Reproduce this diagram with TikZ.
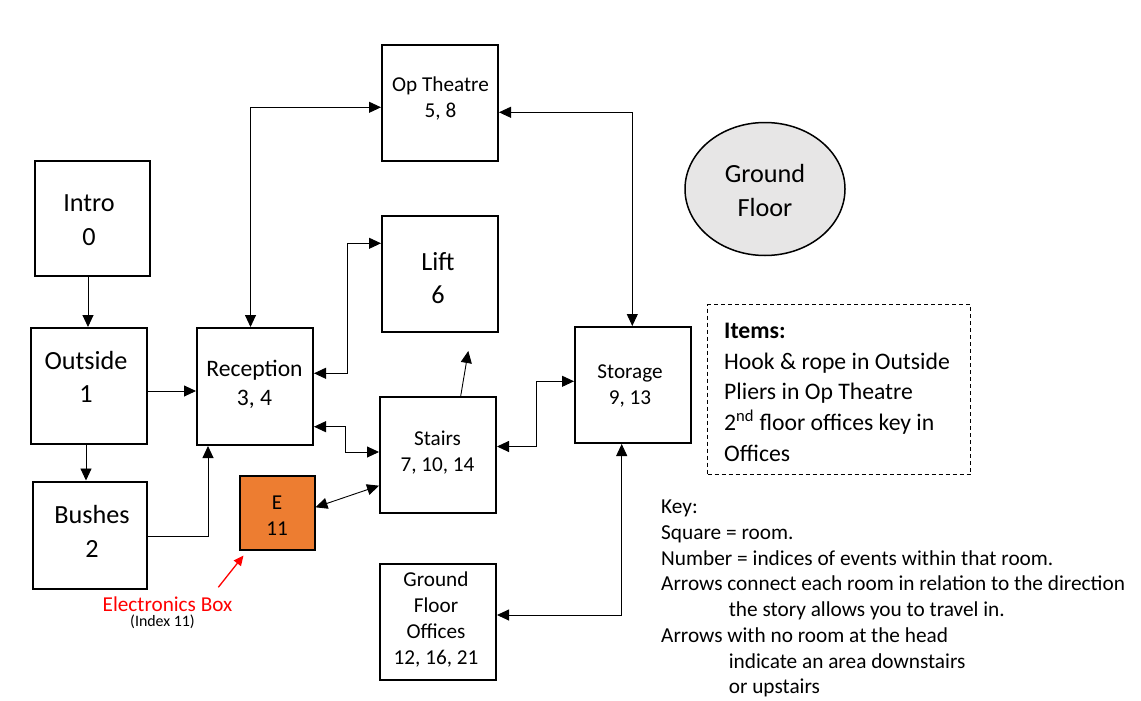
\documentclass[tikz,border=0pt]{standalone}
\usepackage{fontspec}
\setmainfont{Carlito}
\usetikzlibrary{arrows.meta,shapes.geometric,calc}
\definecolor{eorange}{HTML}{ED7D31}
\definecolor{ellgray}{HTML}{E7E6E6}
\newcommand\rmBig{\fontsize{26.2}{33.5}\selectfont}
\newcommand\rmRec{\fontsize{23.6}{29}\selectfont}
\newcommand\rmMid{\fontsize{21.2}{26}\selectfont}
\newcommand\rmItems{\fontsize{23.7}{30.7}\selectfont}
\newcommand\rmKey{\fontsize{21.3}{25.7}\selectfont}
\newcommand\rmTiny{\fontsize{15.9}{18}\selectfont}
\begin{document}
\begin{tikzpicture}[x=1pt,y=-1pt,
  room/.style={draw, line width=2pt, inner sep=0pt, minimum width=116pt, minimum height=116pt},
  rtxt/.style={align=center, inner sep=0pt},
  tipA/.tip={Triangle[length=12pt,width=11pt]},
  arr/.style={line width=0.9pt, -tipA},
  darr/.style={line width=0.9pt, tipA-tipA},
  redarr/.style={line width=1.3pt, red, -{Triangle[length=10pt,width=9pt]}}]
\useasboundingbox[fill=white] (0,0) rectangle (1141,701);

% rooms
\node[room, minimum width=115pt, minimum height=115pt] (intro) at (92.5,218.5) {};
\node[rtxt, font=\rmBig] (introT) at (89,220) {Intro\\0};
\node[room] (outside) at (89,386) {};
\node[rtxt, font=\rmBig] (outsideT) at (86,377) {Outside\\1};
\node[room, minimum width=114pt, minimum height=107pt] (bushes) at (90,535) {};
\node[rtxt, font=\rmBig] (bushesT) at (92,531.5) {Bushes\\2};
\node[room, minimum height=117pt] (rec) at (255,386.5) {};
\node[rtxt, font=\rmRec] (recT) at (254.5,384.5) {Reception\\3, 4};
\node[room] (op) at (440,103) {};
\node[rtxt, font=\rmMid] (opT) at (440.5,98.5) {Op Theatre\\5, 8};
\node[room] (lift) at (440,274) {};
\node[rtxt, font=\rmBig] (liftT) at (438,278) {Lift\\6};
\node[room] (stairs) at (438,455) {};
\node[rtxt, font=\rmMid] (stairsT) at (437.5,453) {Stairs\\7, 10, 14};
\node[room, minimum width=75pt, minimum height=74pt, fill=eorange] (e) at (277,512.5) {};
\node[rtxt, font=\rmMid, text depth=0pt] (eT) at (277,515.5) {E\\11};
\node[room] (sto) at (633,385) {};
\node[rtxt, font=\rmMid] (stoT) at (630,386) {Storage\\9, 13};
\node[room] (gfo) at (438,621.5) {};
\node[rtxt, font=\rmMid] (gfoT) at (436,619) {Ground\\Floor\\Offices\\12, 16, 21};

% ground floor ellipse
\node[ellipse, draw, line width=1.5pt, fill=ellgray, inner sep=0pt,
      minimum width=160pt, minimum height=133pt] (gf) at (765,189) {};
\node[rtxt, font=\rmBig] (gfT) at (765,190.5) {Ground\\Floor};

% items box
\node[draw, line width=0.8pt, dash pattern=on 4pt off 3pt, inner sep=0pt,
      minimum width=263pt, minimum height=170pt] (items) at (839,389.5) {};
\node[align=left, inner sep=0pt, anchor=north west, font=\rmItems] (itemsT) at (724,323)
  {\textbf{Items:}\\Hook \& rope in Outside\\Pliers in Op Theatre\\2\textsuperscript{nd} floor offices key in\\Offices};

% key
\node[align=left, inner sep=0pt, anchor=north west, font=\rmKey] (key) at (661,500)
  {Key:\\
   Square = room.\\
   Number = indices of events within that room.\\
   Arrows connect each room in relation to the direction\\
   \hspace*{67.6pt}the story allows you to travel in.\\
   Arrows with no room at the head\\
   \hspace*{67.6pt}indicate an area downstairs\\
   \hspace*{67.6pt}or upstairs};

% electronics label
\node[rtxt, font=\rmMid, text=red] (elabel) at (167.5,604) {Electronics Box};
\node[rtxt, font=\rmTiny] (eidx) at (162.5,622) {(Index 11)};

% routing coordinates
\coordinate (a1) at (88,0);
\coordinate (a2) at (0,391);
\coordinate (a3) at (86,0);
\coordinate (a4) at (208,536.5);
\coordinate (a5) at (250.5,107.3);
\coordinate (a6) at (632.3,112.3);
\coordinate (a7a) at (347.8,373.3);
\coordinate (a7b) at (347.8,243.3);
\coordinate (a8a) at (345,426.7);
\coordinate (a8b) at (345,452);
\coordinate (a9s) at (460.7,0);
\coordinate (a9) at (468.3,351);
\coordinate (a10a) at (0,507.3);
\coordinate (a10b) at (0,485.7);
\coordinate (a11a) at (536,446.5);
\coordinate (a11b) at (536,381.3);
\coordinate (a12) at (621.7,615);
\coordinate (ra1) at (218.3,587.3);

% connectors
\draw[arr] (intro.south -| a1) -- (outside.north -| a1);
\draw[arr] (outside.east |- a2) -- (rec.west |- a2);
\draw[arr] (outside.south -| a3) -- (bushes.north -| a3);
\draw[arr] (bushes.east |- a4) -- (a4) -- (rec.south -| a4);
\draw[darr] (rec.north -| a5) -- (a5) -- (op.west |- a5);
\draw[darr] (op.east |- a6) -- (a6) -- (sto.north -| a6);
\draw[darr] (rec.east |- a7a) -- (a7a) -- (a7b) -- (lift.west |- a7b);
\draw[darr] (rec.east |- a8a) -- (a8a) -- (a8b) -- (stairs.west |- a8b);
\draw[arr] (stairs.north -| a9s) -- (a9);
\draw[darr] (e.east |- a10a) -- (stairs.west |- a10b);
\draw[darr] (stairs.east |- a11a) -- (a11a) -- (a11b) -- (sto.west |- a11b);
\draw[darr] (sto.south -| a12) -- (a12) -- (gfo.east |- a12);
\draw[redarr] (ra1) -- ($(e.south west)+(5,5)$);
\end{tikzpicture}
\end{document}
